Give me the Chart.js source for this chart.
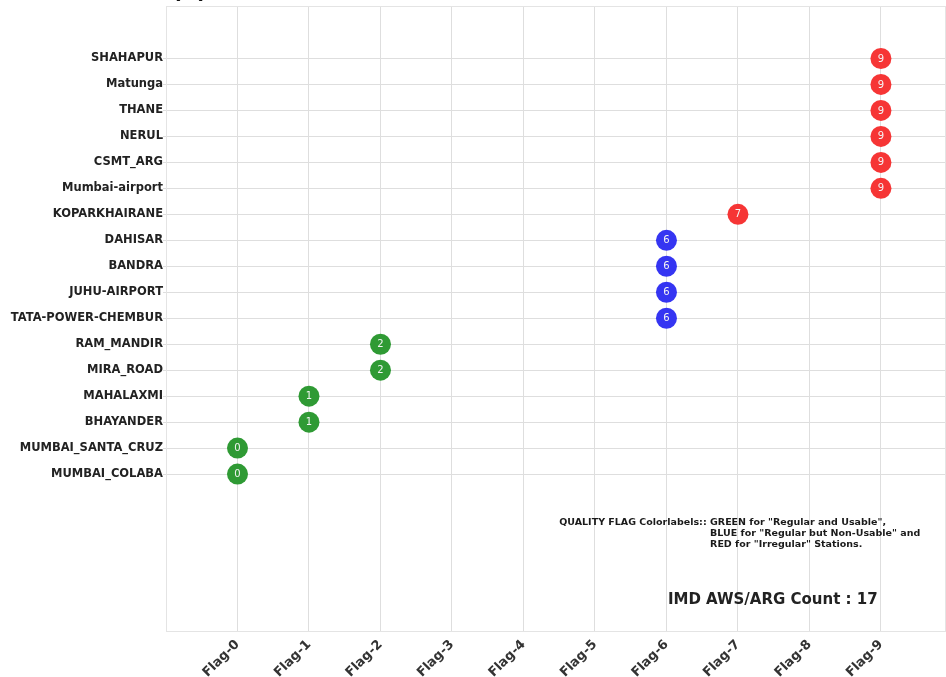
<!DOCTYPE html>
<html>
<head>
<meta charset="utf-8">
<script src="https://cdn.jsdelivr.net/npm/chart.js@4.4.0/dist/chart.umd.min.js"></script>
<style>
  html, body { margin: 0; padding: 0; background: #ffffff; }
  #wrap { width: 946px; height: 677px; position: relative; }
</style>
</head>
<body>
<div id="wrap"><canvas id="c" width="946" height="677"></canvas></div>
<script>
// ---- Data (bottom row first) ----
const stations = ['MUMBAI_COLABA','MUMBAI_SANTA_CRUZ','BHAYANDER','MAHALAXMI','MIRA_ROAD','RAM_MANDIR',
  'TATA-POWER-CHEMBUR','JUHU-AIRPORT','BANDRA','DAHISAR','KOPARKHAIRANE','Mumbai-airport',
  'CSMT_ARG','NERUL','THANE','Matunga','SHAHAPUR'];
const flags = [0,0,1,1,2,2,6,6,6,6,7,9,9,9,9,9,9];
const quality = ['GREEN','GREEN','GREEN','GREEN','GREEN','GREEN','BLUE','BLUE','BLUE','BLUE',
  'RED','RED','RED','RED','RED','RED','RED'];
const flagLabels = ['Flag-0','Flag-1','Flag-2','Flag-3','Flag-4','Flag-5','Flag-6','Flag-7','Flag-8','Flag-9'];
const stationCount = 17;

const colorMap = { GREEN: '#2f9a34', BLUE: '#3535f2', RED: '#f63535' };
const points = flags.map((f, i) => ({ x: f, y: i }));
const pointColors = quality.map(q => colorMap[q]);

const FONT = '"DejaVu Sans", Verdana, sans-serif';
const GRID = '#dedede';

const overlay = {
  id: 'overlay',
  afterDatasetsDraw(chart) {
    const ctx = chart.ctx;
    const meta = chart.getDatasetMeta(0);
    ctx.save();
    ctx.fillStyle = '#f4f4f4';
    ctx.font = '10px ' + FONT;
    ctx.textAlign = 'center';
    ctx.textBaseline = 'middle';
    meta.data.forEach((el, i) => {
      ctx.fillText(String(flags[i]), el.x, el.y + 0.5);
    });
    ctx.restore();
  },
  afterDraw(chart) {
    const ctx = chart.ctx;
    const a = chart.chartArea;
    const xs = chart.scales.x, ys = chart.scales.y;
    ctx.save();
    // frame
    ctx.strokeStyle = '#e4e4e4';
    ctx.lineWidth = 1;
    ctx.strokeRect(a.left + 0.5, a.top + 0.5, a.right - a.left - 1, a.bottom - a.top);
    // annotation
    ctx.fillStyle = '#1a1a1a';
    ctx.font = 'bold 9.5px ' + FONT;
    ctx.textAlign = 'left';
    ctx.textBaseline = 'middle';
    const x0 = xs.getPixelForValue(4.5);
    const x1 = xs.getPixelForValue(6.61);
    const y0 = ys.getPixelForValue(-1.85);
    ctx.fillText('QUALITY FLAG Colorlabels:: GREEN for "Regular and Usable",', x0, y0);
    ctx.fillText('BLUE for "Regular but Non-Usable" and', x1, y0 + 11);
    ctx.fillText('RED for "Irregular" Stations.', x1, y0 + 22);
    // count label
    ctx.font = 'bold 15px ' + FONT;
    ctx.textAlign = 'left';
    ctx.fillStyle = '#222222';
    ctx.fillText('IMD AWS/ARG Count : ' + stationCount, xs.getPixelForValue(6.02), ys.getPixelForValue(-4.86));
    // panel title (cut off at top)
    ctx.font = 'bold 22px ' + FONT;
    ctx.textBaseline = 'bottom';
    ctx.fillStyle = '#111111';
    ctx.fillText('(a)', 172, 3);
    ctx.restore();
  }
};

new Chart(document.getElementById('c'), {
  type: 'scatter',
  data: {
    datasets: [{
      data: points,
      backgroundColor: pointColors,
      borderColor: pointColors,
      pointRadius: 10.5,
      pointHoverRadius: 10.5,
      borderWidth: 0
    }]
  },
  options: {
    responsive: false,
    animation: false,
    devicePixelRatio: 1,
    layout: { autoPadding: false, padding: { top: 6, right: 0, left: 0, bottom: 0 } },
    plugins: { legend: { display: false }, tooltip: { enabled: false } },
    scales: {
      x: {
        type: 'linear',
        min: -1,
        max: 9.91,
        afterBuildTicks(scale) { scale.ticks = flagLabels.map((_, i) => ({ value: i })); },
        afterFit(scale) { scale.height = 46; scale.paddingLeft = 0; scale.paddingRight = 0; },
        grid: { color: GRID, lineWidth: 1, drawTicks: false },
        border: { display: false },
        ticks: {
          autoSkip: false,
          minRotation: 45,
          maxRotation: 45,
          padding: 6,
          color: '#333333',
          font: { family: FONT, size: 13, weight: 'bold' },
          callback: (v) => flagLabels[v] !== undefined ? flagLabels[v] : ''
        }
      },
      y: {
        type: 'linear',
        min: -6.04,
        max: 18.02,
        afterBuildTicks(scale) { scale.ticks = stations.map((_, i) => ({ value: i })); },
        afterFit(scale) { scale.width = 166; scale.paddingTop = 0; scale.paddingBottom = 0; },
        grid: { color: GRID, lineWidth: 1, tickLength: 3 },
        border: { display: false },
        ticks: {
          autoSkip: false,
          padding: 0,
          color: '#222222',
          font: { family: FONT, size: 11.5, weight: 'bold' },
          callback: (v) => stations[v] !== undefined ? stations[v] : ''
        }
      }
    }
  },
  plugins: [overlay]
});
</script>
</body>
</html>
